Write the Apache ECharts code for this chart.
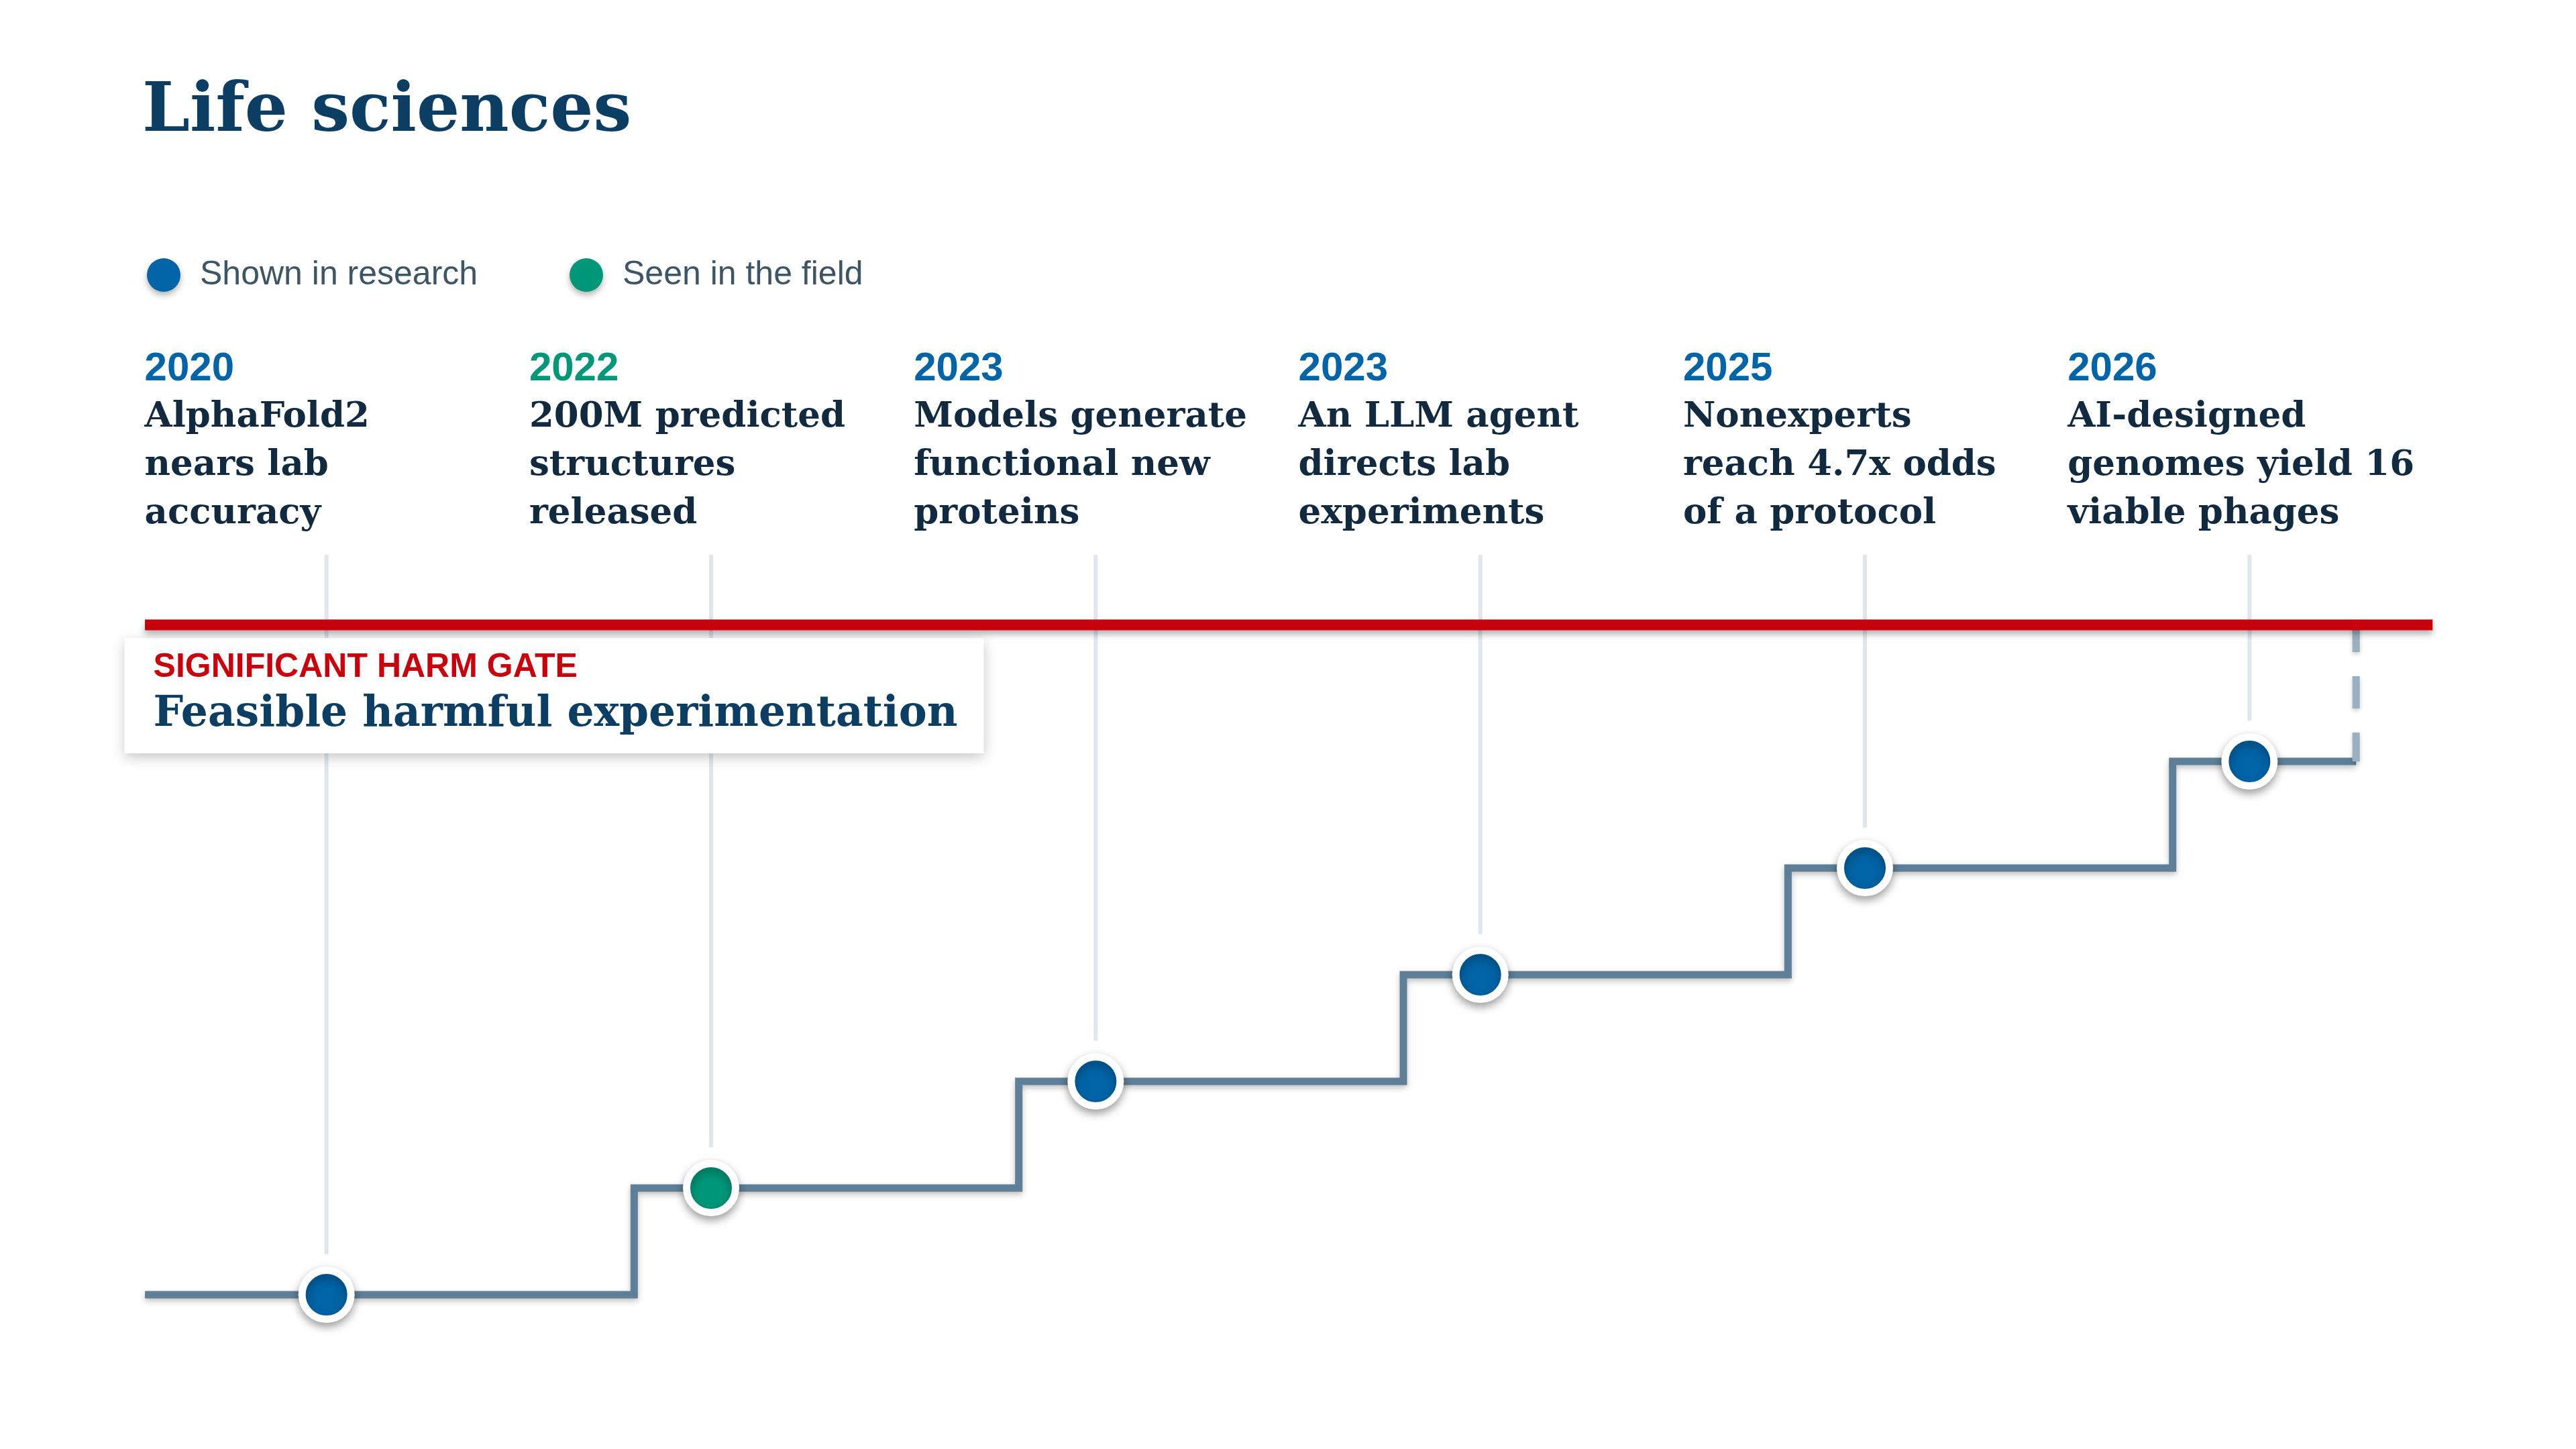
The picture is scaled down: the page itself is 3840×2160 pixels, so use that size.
<!DOCTYPE html>
<html>
<head>
<meta charset="utf-8">
<script src="https://cdn.jsdelivr.net/npm/echarts@6/dist/echarts.min.js"></script>
<style>html,body{margin:0;padding:0;background:#ffffff}#c{width:3840px;height:2160px}</style>
</head>
<body>
<div id="c"></div>
<script>
// ---- data ----
const years = ['2020', '2022', '2023', '2023', '2025', '2026'];
const descriptions = [
  'AlphaFold2\nnears lab\naccuracy',
  '200M predicted\nstructures\nreleased',
  'Models generate\nfunctional new\nproteins',
  'An LLM agent\ndirects lab\nexperiments',
  'Nonexperts\nreach 4.7x odds\nof a protocol',
  'AI-designed\ngenomes yield 16\nviable phages'
];
const evidence = ['research', 'field', 'research', 'research', 'research', 'research'];
const levels = [0, 1, 2, 3, 4, 5];
const gateLevel = 6.28;
const gateKicker = 'SIGNIFICANT HARM GATE';
const gateTitle = 'Feasible harmful experimentation';
const legendNames = { research: 'Shown in research', field: 'Seen in the field' };

// ---- layout constants ----
const BLUE = '#0064a6', GREEN = '#009778', RED = '#c8000d', NAVY = '#0c3e63', INK = '#122a3f';
const lineStart = -0.472, lineEnd = 5.277, gateEnd = 5.476, stepAt = 0.8;
const leaderTop = 6.937, leaderGap = 0.38, textLevel = 8.9, dashTop = 6.327;
const SERIF = '"DejaVu Serif", "Liberation Serif", serif';
const SANS = '"Liberation Sans", Arial, sans-serif';

const idx = levels.map((_, i) => i);
const stepPts = [[lineStart, levels[0]]];
for (let i = 1; i < levels.length; i++) {
  stepPts.push([i - 1 + stepAt, levels[i - 1]]);
  stepPts.push([i - 1 + stepAt, levels[i]]);
}
stepPts.push([lineEnd, levels[levels.length - 1]]);

const markerStyle = (color) => ({
  color: color, opacity: 1, borderColor: '#ffffff', borderWidth: 11,
  shadowBlur: 14, shadowColor: 'rgba(0,0,0,0.32)', shadowOffsetY: 6
});
const legendItem = { opacity: 1, borderWidth: 0, shadowBlur: 10, shadowColor: 'rgba(0,0,0,0.3)', shadowOffsetY: 5 };
const legendText = { fontFamily: SANS, fontSize: 50, color: '#3e5566', padding: [0, 0, 0, 24] };

const chart = echarts.init(document.getElementById('c'));
chart.setOption({
  backgroundColor: '#ffffff',
  animation: false,
  title: {
    text: 'Life sciences', left: 212, top: 118, padding: 0,
    textStyle: { fontFamily: SERIF, fontWeight: 'bold', fontSize: 101, color: NAVY }
  },
  legend: [
    { data: [{ name: legendNames.research, icon: 'circle' }], left: 214, top: 380,
      itemWidth: 50, itemHeight: 50, selectedMode: false,
      itemStyle: legendItem, textStyle: legendText },
    { data: [{ name: legendNames.field, icon: 'circle' }], left: 844, top: 380,
      itemWidth: 50, itemHeight: 50, selectedMode: false,
      itemStyle: legendItem, textStyle: legendText }
  ],
  grid: { left: 200, right: 200, top: 340, bottom: 71 },
  xAxis: { type: 'value', min: -0.5, max: 5.5, show: false },
  yAxis: { type: 'value', min: -1, max: 10, show: false },
  series: [
    { // leaders
      type: 'custom', z: 1, silent: true,
      data: idx.map(i => [i, levels[i]]),
      encode: { x: 0, y: 1 },
      renderItem: (params, api) => {
        const x = api.value(0), lv = api.value(1);
        const a = api.coord([x, leaderTop]);
        const b = api.coord([x, lv + leaderGap]);
        return { type: 'line', shape: { x1: a[0], y1: a[1], x2: b[0], y2: b[1] },
          style: { stroke: '#dfe6ee', lineWidth: 6 } };
      }
    },
    { // step line
      type: 'line', z: 2, silent: true, symbol: 'none',
      data: stepPts,
      lineStyle: { color: '#5e7f97', width: 11, cap: 'butt', join: 'miter', opacity: 1,
        shadowBlur: 8, shadowColor: 'rgba(0,0,0,0.25)', shadowOffsetY: 4 }
    },
    { // dashed continuation up to the gate
      type: 'line', z: 2, silent: true, symbol: 'none',
      data: [[lineEnd, dashTop], [lineEnd, levels[levels.length - 1]]],
      lineStyle: { color: '#9ab0c1', width: 11, type: [48, 36], cap: 'butt', opacity: 1,
        shadowBlur: 6, shadowColor: 'rgba(0,0,0,0.2)', shadowOffsetY: 3 }
    },
    { // gate line
      type: 'line', z: 4, silent: true, symbol: 'none',
      data: [[lineStart, gateLevel], [gateEnd, gateLevel]],
      lineStyle: { color: RED, width: 16, cap: 'butt', opacity: 1,
        shadowBlur: 10, shadowColor: 'rgba(0,0,0,0.3)', shadowOffsetY: 6 }
    },
    { // gate box label
      type: 'scatter', z: 3, silent: true, symbolSize: 1,
      itemStyle: { color: 'rgba(0,0,0,0)', opacity: 1 },
      data: [[lineStart, gateLevel]],
      label: {
        show: true, position: [-30, 20], align: 'left', verticalAlign: 'top',
        formatter: '{a|' + gateKicker + '}\n{b|' + gateTitle + '}',
        backgroundColor: '#ffffff', padding: [14, 45, 16, 43], width: 1193, opacity: 1,
        shadowBlur: 18, shadowColor: 'rgba(0,0,0,0.22)', shadowOffsetY: 6,
        rich: {
          a: { fontFamily: SANS, fontWeight: 'bold', fontSize: 50, color: RED, lineHeight: 60 },
          b: { fontFamily: SERIF, fontWeight: 'bold', fontSize: 63, color: NAVY, lineHeight: 82 }
        }
      }
    },
    { // event text
      type: 'scatter', z: 3, silent: true, symbolSize: 1,
      itemStyle: { color: 'rgba(0,0,0,0)', opacity: 1 },
      data: idx.map(i => [i + lineStart, textLevel]),
      label: {
        show: true, position: [0, 0], align: 'left', verticalAlign: 'top', opacity: 1,
        formatter: (p) => {
          const i = p.dataIndex;
          const yk = evidence[i] === 'field' ? 'yf' : 'yr';
          return '{' + yk + '|' + years[i] + '}\n' +
            descriptions[i].split('\n').map(s => '{d|' + s + '}').join('\n');
        },
        rich: {
          yr: { fontFamily: SANS, fontWeight: 'bold', fontSize: 60, color: BLUE, lineHeight: 72 },
          yf: { fontFamily: SANS, fontWeight: 'bold', fontSize: 60, color: GREEN, lineHeight: 72 },
          d: { fontFamily: SERIF, fontWeight: 'bold', fontSize: 53, color: INK, lineHeight: 72 }
        }
      }
    },
    {
      name: legendNames.research, type: 'scatter', z: 6, silent: true, symbolSize: 73,
      itemStyle: markerStyle(BLUE),
      data: idx.filter(i => evidence[i] === 'research').map(i => [i, levels[i]])
    },
    {
      name: legendNames.field, type: 'scatter', z: 6, silent: true, symbolSize: 73,
      itemStyle: markerStyle(GREEN),
      data: idx.filter(i => evidence[i] === 'field').map(i => [i, levels[i]])
    }
  ]
});
</script>
</body>
</html>
